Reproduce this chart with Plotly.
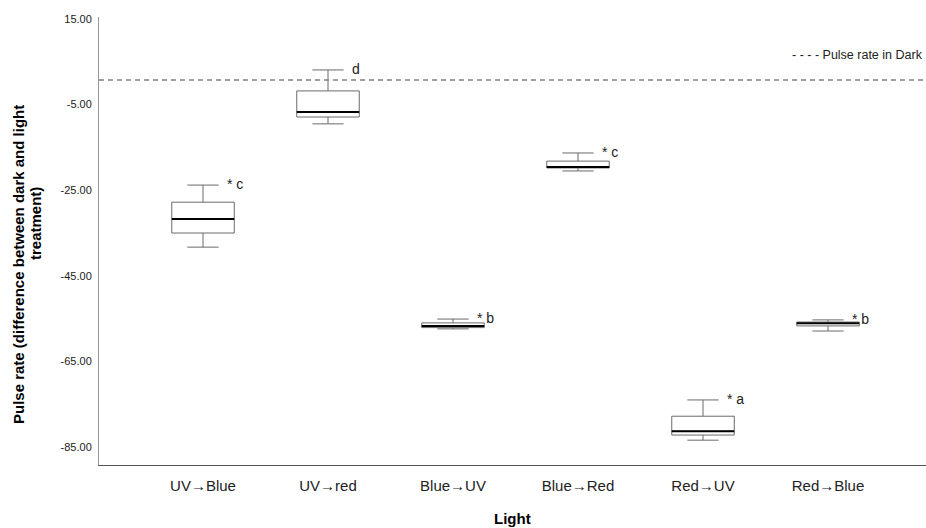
import plotly.graph_objects as go

categories = ["UV→Blue", "UV→red", "Blue→UV", "Blue→Red", "Red→UV", "Red→Blue"]
upper_whisker = [-23.8, 3.1, -55.1, -16.3, -74.0, -55.3]
q3_values = [-27.8, -1.8, -56.0, -18.2, -77.8, -55.8]
median_values = [-31.7, -6.7, -56.7, -19.6, -81.3, -56.1]
q1_values = [-35.0, -7.9, -57.1, -19.8, -82.2, -56.7]
lower_whisker = [-38.3, -9.5, -57.4, -20.5, -83.4, -57.9]
sig_labels = ["* c", "d", "* b", "* c", "* a", "* b"]
dark_rate = 0.75
y_ticks = [15, -5, -25, -45, -65, -85]

FONT = "Liberation Sans, Arial, sans-serif"
positions = list(range(len(categories)))
box_w = 0.5

fig = go.Figure()
fig.add_trace(go.Box(
    x=positions, q1=q1_values, median=median_values, q3=q3_values,
    lowerfence=lower_whisker, upperfence=upper_whisker,
    width=box_w, whiskerwidth=0.5, boxpoints=False,
    fillcolor="white", line=dict(color="#6a6a6a", width=1),
    showlegend=False, hoverinfo="skip",
))

# black median lines
mx, my = [], []
for p, m in zip(positions, median_values):
    mx += [p - box_w / 2, p + box_w / 2, None]
    my += [m, m, None]
fig.add_trace(go.Scatter(x=mx, y=my, mode="lines",
                         line=dict(color="black", width=2),
                         showlegend=False, hoverinfo="skip"))

fig.add_hline(y=dark_rate, line=dict(color="#808080", width=1.5, dash="5px,4px"))

for p, top, lab in zip(positions, upper_whisker, sig_labels):
    fig.add_annotation(x=p, y=top, text=lab, showarrow=False,
                       xanchor="left", yanchor="middle", xshift=22, yshift=1,
                       font=dict(family=FONT, size=14, color="#222"))

fig.add_annotation(xref="paper", yref="paper", x=1, y=0.915,
                   text="- - - - Pulse rate in Dark", showarrow=False,
                   xanchor="right", yanchor="middle", xshift=-1,
                   font=dict(family=FONT, size=12.5, color="#222"))

fig.add_annotation(xref="paper", yref="paper", x=0, y=(465 - 265) / 448,
                   text="<b>Pulse rate (difference between dark and light</b>",
                   textangle=-90, showarrow=False, xanchor="center", yanchor="middle",
                   xshift=-81,
                   font=dict(family=FONT, size=15, color="black"))
fig.add_annotation(xref="paper", yref="paper", x=0, y=(465 - 224) / 448,
                   text="<b>treatment)</b>",
                   textangle=-90, showarrow=False, xanchor="center", yanchor="middle",
                   xshift=-64,
                   font=dict(family=FONT, size=15, color="black"))
fig.add_annotation(xref="paper", yref="paper", x=0.5, y=0,
                   text="<b>Light</b>", showarrow=False, yanchor="middle",
                   yshift=-53, xshift=0,
                   font=dict(family=FONT, size=15, color="black"))

fig.update_xaxes(range=[-0.832, 5.784], tickvals=positions, ticktext=categories,
                 showgrid=False, zeroline=False, showline=True,
                 linecolor="#555555", linewidth=1, ticks="",
                 ticklabelstandoff=7,
                 tickfont=dict(family=FONT, size=15, color="#222"))
fig.update_yaxes(range=[-89.2, 15.47], tickvals=y_ticks,
                 ticktext=[f"{v:.2f}" for v in y_ticks],
                 showgrid=False, zeroline=False, showline=True,
                 linecolor="#999999", linewidth=1, ticks="",
                 ticklabelstandoff=4,
                 tickfont=dict(family=FONT, size=11, color="#222"))

fig.update_layout(width=926, height=528, margin=dict(l=99, r=0, t=17, b=63),
                  plot_bgcolor="white", paper_bgcolor="white",
                  font=dict(family=FONT))
fig.write_html("out.html")
